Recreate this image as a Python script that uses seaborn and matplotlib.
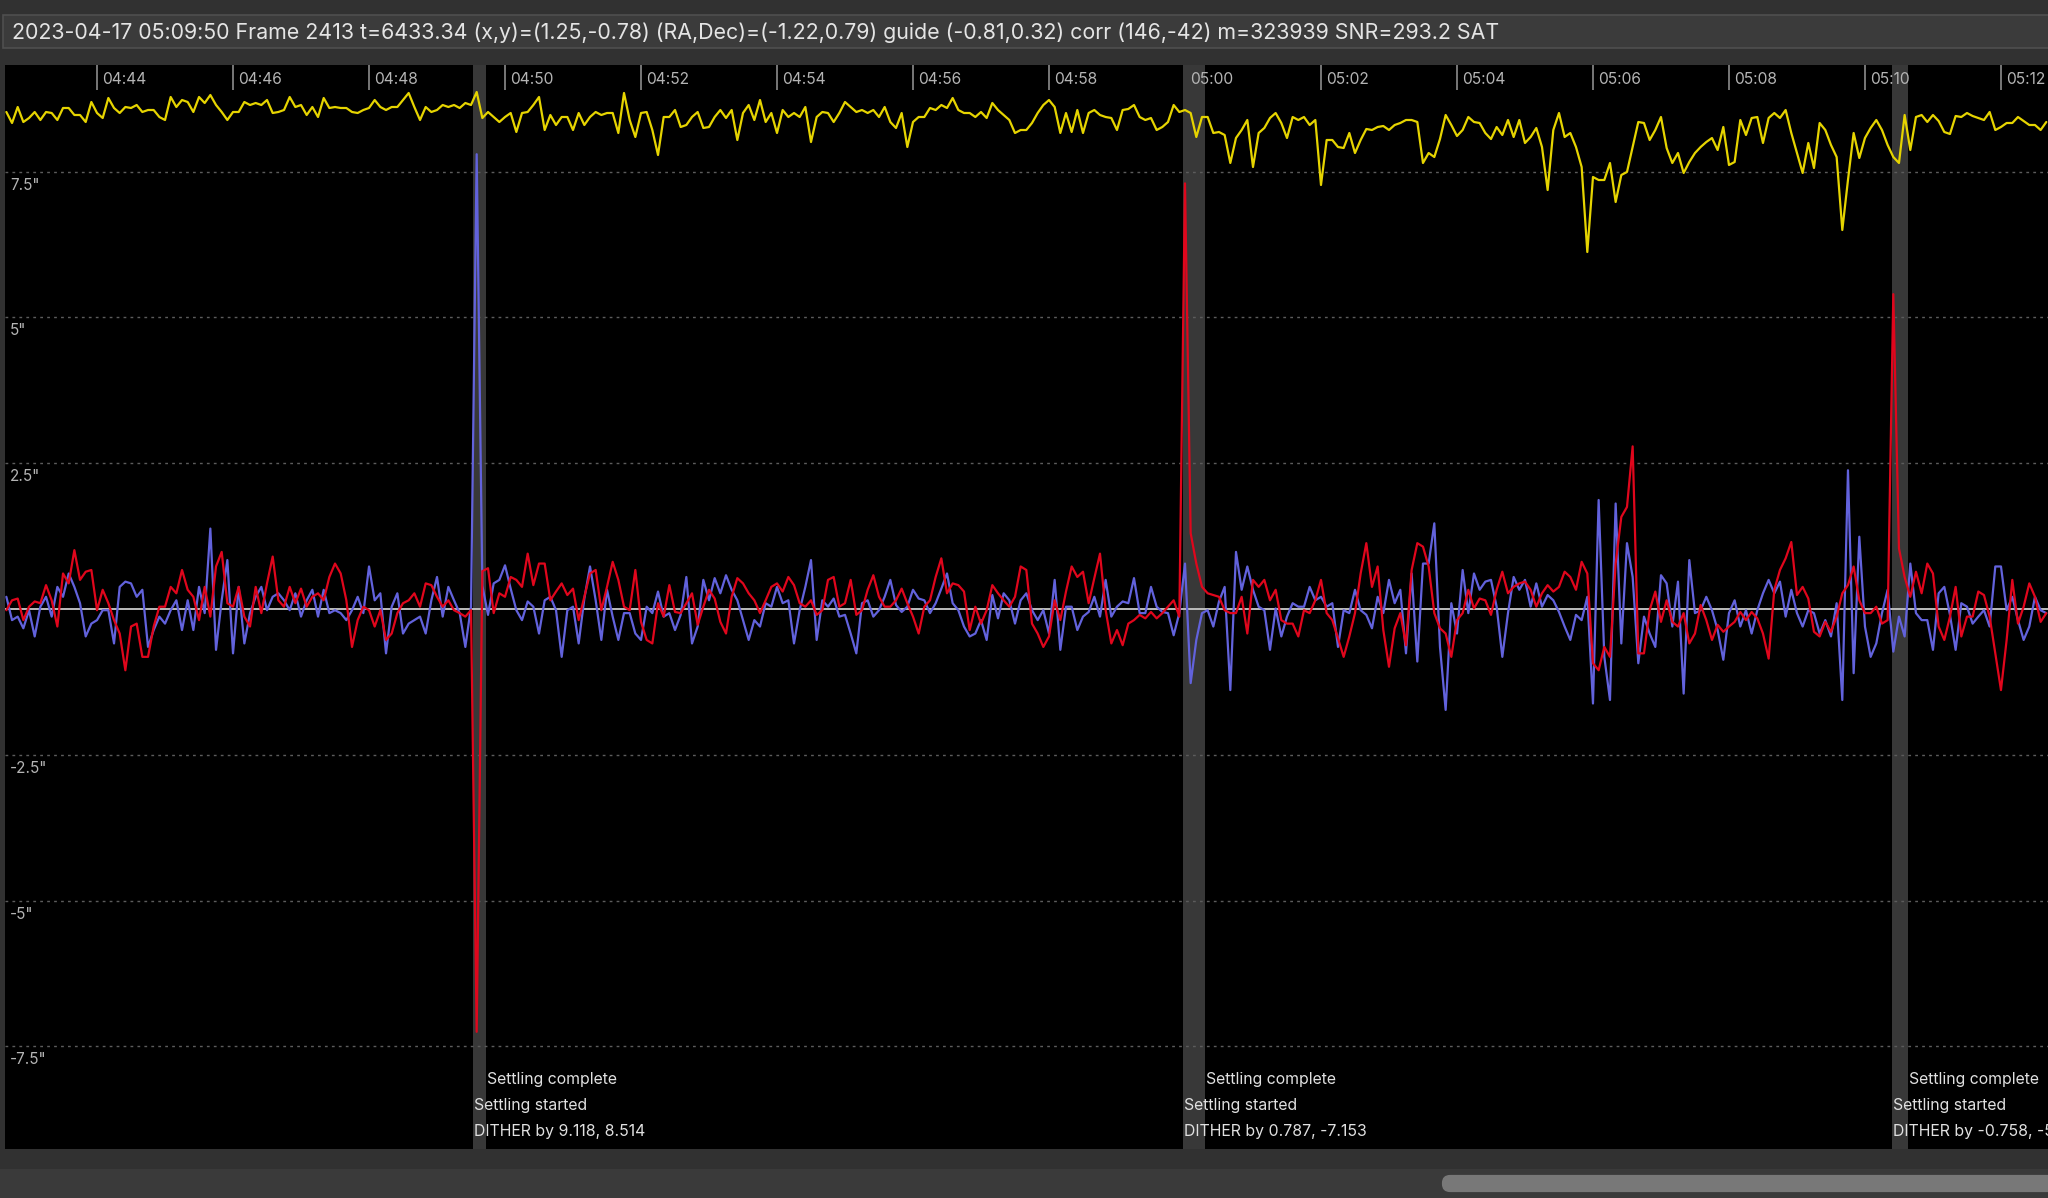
import seaborn as sns
import pandas as pd
import numpy as np
import matplotlib.pyplot as plt
import matplotlib.dates as mdates
from matplotlib.patches import Rectangle, FancyBboxPatch

# guide log, one frame every 5 s from the start time
start = "2023-04-17 04:42:40"
step = "5s"

# RA offset (arcsec), blue
ra = [
    0.21, -0.19, -0.13, -0.33, -0.02, -0.47, 0.04, 0.21, -0.13, 0.38,
    0.21, 0.61, 0.38, 0.10, -0.47, -0.25, -0.19, -0.02, -0.02, -0.59,
    0.38, 0.47, 0.44, 0.21, 0.33, -0.65, -0.36, -0.13, -0.25, -0.02,
    0.15, -0.36, 0.15, -0.36, 0.38, -0.07, 1.38, -0.70, 0.15, 0.84,
    -0.76, 0.38, -0.59, -0.07, 0.21, 0.38, -0.02, 0.21, 0.27, 0.15,
    -0.02, 0.27, -0.13, 0.15, 0.33, -0.13, 0.33, -0.07, -0.02, -0.07,
    -0.19, -0.02, 0.21, -0.07, 0.73, 0.15, 0.27, -0.76, 0.04, 0.27,
    -0.42, -0.25, -0.19, -0.13, -0.42, 0.15, 0.55, -0.13, 0.38, 0.15,
    -0.07, -0.65, 0.04, 7.80, 0.40, -0.10, 0.44, 0.50, 0.75, 0.35,
    -0.02, -0.19, 0.13, 0.04, -0.42, 0.15, 0.21, -0.02, -0.82, -0.02,
    0.04, -0.59, 0.18, 0.73, 0.15, -0.53, 0.33, -0.13, -0.53, -0.07,
    -0.07, -0.42, -0.53, 0.04, -0.07, 0.30, -0.13, -0.07, -0.36, -0.10,
    0.55, -0.59, -0.30, 0.50, 0.15, 0.53, 0.27, 0.58, 0.33, 0.15,
    -0.19, -0.53, -0.19, -0.30, 0.10, 0.04, 0.38, 0.10, 0.15, -0.59,
    -0.02, 0.38, 0.84, -0.53, 0.15, 0.04, 0.18, -0.13, -0.10, -0.42,
    -0.76, 0.10, 0.15, -0.13, -0.02, 0.21, 0.50, 0.07, -0.05, 0.04,
    0.33, 0.18, 0.15, -0.07, 0.10, 0.35, 0.61, 0.10, -0.02, -0.30,
    -0.47, -0.42, -0.19, -0.53, 0.24, -0.16, 0.27, 0.15, -0.25, 0.15,
    0.27, -0.02, -0.19, -0.02, -0.42, 0.50, -0.70, 0.04, 0.04, -0.36,
    -0.13, -0.05, 0.21, -0.13, 0.50, -0.13, 0.04, 0.13, 0.10, 0.53,
    -0.07, -0.07, 0.38, 0.04, -0.05, -0.07, -0.45, -0.07, 0.78, -1.27,
    -0.53, -0.07, -0.02, -0.30, 0.13, 0.38, -1.39, 0.98, 0.33, 0.73,
    0.33, 0.04, -0.02, -0.70, 0.01, -0.47, -0.13, 0.10, 0.04, 0.04,
    0.38, 0.15, 0.21, 0.04, 0.10, -0.65, -0.02, -0.07, 0.33, -0.02,
    -0.10, -0.33, 0.21, -0.07, 0.50, 0.10, 0.33, -0.76, 0.61, -0.90,
    0.78, 0.78, 1.47, -0.65, -1.73, 0.10, -0.42, 0.67, -0.07, 0.61,
    0.33, 0.47, 0.50, 0.04, -0.82, -0.07, 0.55, 0.33, 0.50, 0.04,
    0.44, 0.04, 0.24, 0.15, -0.05, -0.30, -0.53, -0.10, -0.19, 0.21,
    -1.62, 1.87, -0.82, -1.56, 1.81, -0.59, 1.13, 0.55, -0.93, -0.13,
    -0.42, -0.65, 0.58, 0.44, -0.30, 0.47, -1.45, 0.84, -0.07, -0.02,
    0.21, -0.02, -0.36, -0.87, -0.07, 0.15, -0.30, -0.02, -0.42, -0.02,
    0.27, 0.50, 0.27, 0.47, -0.13, 0.33, -0.07, -0.30, -0.02, -0.07,
    -0.42, -0.19, -0.47, 0.10, -1.56, 2.38, -1.10, 1.24, -0.30, -0.82,
    -0.59, -0.07, 0.33, -0.73, -0.13, -0.47, 0.78, -0.07, -0.19, -0.19,
    -0.70, 0.27, 0.38, -0.10, -0.70, 0.10, 0.04, -0.25, -0.13, -0.02,
    -0.30, 0.73, 0.73, -0.02, 0.21, -0.19, -0.53, -0.30, 0.21, -0.02,
    -0.07,
]

# Dec offset (arcsec), red
dec = [
    -0.02, 0.15, 0.18, -0.19, 0.04, 0.13, 0.10, 0.41, 0.15, -0.30,
    0.61, 0.44, 1.01, 0.50, 0.64, 0.67, -0.02, 0.33, 0.10, -0.19,
    -0.42, -1.05, -0.30, -0.25, -0.82, -0.82, -0.30, 0.04, 0.04, 0.38,
    0.27, 0.67, 0.33, 0.21, -0.19, 0.38, -0.13, 0.73, 0.98, 0.10,
    0.04, 0.38, -0.13, -0.30, 0.38, -0.07, 0.44, 0.90, 0.15, 0.04,
    0.38, 0.10, 0.35, 0.04, 0.21, 0.27, 0.15, 0.55, 0.78, 0.61,
    0.15, -0.65, -0.19, 0.04, -0.02, -0.30, -0.02, -0.53, -0.42, -0.07,
    0.10, 0.15, 0.27, 0.04, 0.44, 0.41, 0.21, 0.04, 0.15, -0.02,
    -0.07, -0.13, -0.02, -7.25, 0.65, 0.70, -0.07, 0.27, 0.21, 0.55,
    0.50, 0.38, 0.95, 0.41, 0.78, 0.78, 0.15, 0.30, 0.44, 0.24,
    0.35, -0.19, 0.21, 0.61, 0.67, -0.02, 0.38, 0.81, 0.50, 0.04,
    -0.02, 0.67, -0.22, -0.53, -0.59, 0.10, -0.13, 0.41, -0.05, -0.07,
    0.10, 0.27, -0.27, 0.04, 0.33, 0.18, -0.22, -0.42, 0.21, 0.53,
    0.44, 0.27, 0.15, -0.07, 0.15, 0.38, 0.44, 0.30, 0.55, 0.41,
    0.10, 0.04, 0.15, -0.10, -0.02, 0.50, 0.55, 0.04, 0.10, 0.50,
    -0.10, -0.02, 0.33, 0.58, 0.21, 0.04, 0.04, 0.15, 0.35, 0.10,
    -0.13, -0.42, 0.04, 0.15, 0.55, 0.87, 0.27, 0.44, 0.41, 0.30,
    -0.36, 0.04, -0.25, -0.02, 0.41, 0.27, 0.15, 0.04, 0.21, 0.73,
    0.67, -0.25, -0.42, -0.65, -0.47, 0.15, -0.19, 0.30, 0.73, 0.55,
    0.64, 0.10, 0.53, 0.95, -0.02, -0.59, -0.36, -0.62, -0.25, -0.19,
    -0.10, -0.16, -0.05, -0.16, -0.07, 0.04, 0.15, -0.13, 7.30, 1.30,
    0.78, 0.38, 0.27, 0.24, 0.21, -0.02, -0.07, -0.07, 0.21, -0.42,
    0.50, 0.38, 0.50, 0.15, 0.33, -0.19, -0.25, -0.25, -0.47, -0.02,
    -0.07, 0.15, 0.50, -0.07, -0.19, -0.50, -0.82, -0.47, -0.07, 0.61,
    1.13, 0.38, 0.73, -0.36, -0.99, -0.33, -0.07, -0.62, 0.67, 1.13,
    1.07, 0.73, -0.07, -0.33, -0.42, -0.82, -0.19, -0.07, 0.33, 0.01,
    0.18, 0.15, -0.10, 0.33, 0.64, 0.27, 0.38, 0.44, 0.47, 0.33,
    0.04, 0.27, 0.41, 0.30, 0.38, 0.64, 0.55, 0.33, 0.81, 0.61,
    -0.93, -1.05, -0.65, -0.82, 0.78, 1.58, 1.75, 2.79, -0.76, -0.76,
    -0.02, 0.30, -0.22, 0.15, -0.22, -0.30, -0.07, -0.59, -0.42, 0.07,
    -0.19, -0.53, -0.27, -0.39, -0.30, -0.22, -0.05, -0.19, -0.05, -0.16,
    -0.42, -0.85, 0.33, 0.67, 0.87, 1.15, 0.24, 0.38, 0.18, -0.39,
    -0.47, -0.22, -0.39, -0.13, 0.27, 0.41, 0.73, 0.15, -0.07, -0.07,
    0.04, -0.25, -0.19, 5.40, 1.04, 0.55, 0.21, 0.64, 0.27, 0.78,
    0.61, -0.30, -0.53, -0.13, 0.38, -0.47, -0.13, -0.13, 0.30, 0.24,
    -0.13, -0.76, -1.39, -0.53, 0.50, -0.25, 0.04, 0.44, 0.21, -0.22,
    -0.07,
]

# star mass (thousands), yellow
mass = [
    324, 313, 329, 314, 318, 324, 316, 324, 323, 316,
    328, 328, 321, 321, 314, 334, 323, 318, 338, 328,
    323, 329, 328, 331, 324, 326, 326, 319, 316, 339,
    329, 336, 334, 324, 339, 333, 341, 331, 324, 316,
    324, 324, 334, 331, 333, 331, 336, 323, 324, 326,
    339, 329, 331, 321, 329, 319, 338, 328, 329, 328,
    328, 324, 323, 326, 328, 336, 329, 326, 329, 329,
    336, 343, 329, 316, 329, 324, 326, 331, 329, 331,
    328, 333, 331, 344, 318, 324, 319, 314, 319, 323,
    304, 323, 324, 331, 339, 306, 321, 311, 319, 319,
    306, 323, 311, 319, 324, 321, 323, 323, 303, 343,
    316, 299, 323, 324, 306, 281, 319, 319, 326, 309,
    311, 319, 324, 308, 309, 319, 326, 318, 326, 296,
    323, 331, 316, 336, 314, 323, 303, 326, 319, 323,
    319, 329, 294, 319, 324, 323, 314, 323, 334, 329,
    324, 326, 323, 326, 319, 329, 314, 308, 323, 289,
    314, 319, 319, 328, 326, 331, 328, 338, 326, 323,
    323, 319, 324, 318, 333, 326, 321, 316, 303, 306,
    306, 313, 323, 331, 336, 329, 303, 323, 304, 326,
    303, 323, 326, 321, 319, 318, 306, 326, 327, 331,
    319, 316, 318, 306, 309, 314, 331, 324, 326, 323,
    299, 319, 319, 303, 304, 301, 273, 298, 306, 316,
    269, 303, 308, 318, 323, 313, 298, 319, 316, 319,
    311, 316, 251, 296, 296, 289, 288, 303, 283, 296,
    307, 306, 309, 310, 306, 311, 313, 316, 316, 314,
    273, 283, 279, 297, 321, 311, 300, 306, 319, 314,
    313, 303, 297, 309, 301, 316, 299, 316, 293, 299,
    308, 289, 246, 306, 323, 299, 303, 289, 269, 184,
    259, 256, 256, 273, 234, 261, 264, 289, 314, 313,
    296, 306, 319, 288, 273, 283, 263, 274, 283, 289,
    294, 298, 286, 309, 271, 274, 316, 301, 318, 319,
    293, 318, 323, 318, 326, 303, 283, 263, 293, 268,
    313, 306, 291, 279, 206, 256, 303, 278, 298, 308,
    316, 306, 291, 279, 273, 321, 286, 319, 321, 314,
    321, 315, 304, 302, 320, 319, 323, 320, 318, 316,
    324, 306, 309, 313, 313, 319, 315, 311, 311, 306,
    314,
]

dither_start = ["2023-04-17 04:49:31.7", "2023-04-17 04:59:58", "2023-04-17 05:10:24"]
dither_end = ["2023-04-17 04:49:43", "2023-04-17 05:00:18", "2023-04-17 05:10:38"]
dither_text = ["DITHER by 9.118, 8.514", "DITHER by 0.787, -7.153", "DITHER by -0.758, -5.412"]

grid_levels = [7.5, 5, 2.5, -2.5, -5, -7.5]
grid_labels = ['7.5"', '5"', '2.5"', '-2.5"', '-5"', '-7.5"']

status = ("2023-04-17 05:09:50 Frame 2413 t=6433.34 (x,y)=(1.25,-0.78) "
          "(RA,Dec)=(-1.22,0.79) guide (-0.81,0.32) corr (146,-42) m=323939 SNR=293.2 SAT")

times = pd.date_range(start, periods=len(ra), freq=step)
n = len(ra)
df = pd.DataFrame({
    "time": list(times) * 2,
    "axis": ["RA"] * n + ["Dec"] * n,
    "offset": ra + dec,
})
df_mass = pd.DataFrame({"time": times, "mass": mass})

sns.set_theme(style="dark")
plt.rcParams["font.family"] = ["Inter", "DejaVu Sans"]

W, H = 2048, 1198
fig = plt.figure(figsize=(W / 100, H / 100), dpi=100, facecolor="#313131")

# status bar
fig.add_artist(Rectangle((3 / W, 1 - 48 / H), 1, 33 / H, transform=fig.transFigure,
                         facecolor="#3b3b3b", edgecolor="#4f4f4f", lw=1.2))
fig.text(12 / W, 1 - 33 / H, status, color="#e4e4e4", fontsize=15.4, va="center", ha="left")

# scrollbar
fig.add_artist(Rectangle((0, 0), 1, 29 / H, transform=fig.transFigure,
                         facecolor="#3a3a3a", edgecolor="none"))
fig.add_artist(FancyBboxPatch((1446 / W, 10 / H), 700 / W, 9 / H, transform=fig.transFigure,
                              boxstyle="round,pad=0.002,rounding_size=0.004",
                              facecolor="#787878", edgecolor="none", mutation_aspect=W / H))

ax = fig.add_axes([5 / W, 49 / H, (W - 5) / W, 1084 / H])
ax.set_facecolor("black")
for s in ax.spines.values():
    s.set_visible(False)

# dither bands
for s0, s1 in zip(dither_start, dither_end):
    ax.axvspan(pd.Timestamp(s0), pd.Timestamp(s1), color="#383838", lw=0, zorder=1)

for lv in grid_levels:
    ax.axhline(lv, color="#5c5c5c", lw=1.0, ls=(0, (2, 3)), zorder=1.5)
ax.axhline(0, color="#bcbcbc", lw=1.4, zorder=2)

sns.lineplot(data=df, x="time", y="offset", hue="axis", hue_order=["RA", "Dec"],
             palette={"RA": "#6262dc", "Dec": "#e0061c"}, estimator=None,
             linewidth=1.6, legend=False, ax=ax, zorder=3)

ax.set_xlim(pd.Timestamp("2023-04-17 04:42:38.8"), pd.Timestamp("2023-04-17 05:12:41.5"))
ax.set_ylim(-9.26, 9.33)
ax.set_xlabel("")
ax.set_ylabel("")
ax.set_yticks([])
ax.grid(False)

ax.xaxis.set_major_locator(mdates.MinuteLocator(byminute=range(0, 60, 2)))
ax.tick_params(axis="x", which="major", direction="in", top=True, bottom=False,
               labeltop=False, labelbottom=False, length=18, width=1.2, color="#8c8c8c")

for t in pd.date_range("2023-04-17 04:44", "2023-04-17 05:12", freq="2min"):
    ax.annotate(t.strftime("%H:%M"), xy=(mdates.date2num(t), 1), xycoords=("data", "axes fraction"),
                xytext=(5, -14), textcoords="offset pixels", va="center", ha="left",
                fontsize=11.2, color="#b4b4b4")

for lv, lb in zip(grid_levels, grid_labels):
    ax.annotate(lb, xy=(0, lv), xycoords=("axes fraction", "data"), xytext=(5, -6),
                textcoords="offset pixels", va="top", ha="left", fontsize=11, color="#b4b4b4")

for s0, s1, txt in zip(dither_start, dither_end, dither_text):
    x0 = mdates.date2num(pd.Timestamp(s0))
    x1 = mdates.date2num(pd.Timestamp(s1))
    ax.annotate("Settling complete", xy=(x1, 0.0637), xycoords=("data", "axes fraction"),
                xytext=(1, 0), textcoords="offset pixels", va="center", ha="left",
                fontsize=11.4, color="#e0e0e0", annotation_clip=False)
    ax.annotate("Settling started", xy=(x0, 0.0397), xycoords=("data", "axes fraction"),
                xytext=(1, 0), textcoords="offset pixels", va="center", ha="left",
                fontsize=11.4, color="#e0e0e0", annotation_clip=False)
    ax.annotate(txt, xy=(x0, 0.0157), xycoords=("data", "axes fraction"),
                xytext=(1, 0), textcoords="offset pixels", va="center", ha="left",
                fontsize=11.4, color="#e0e0e0", annotation_clip=False)

# star mass on its own scale
ax2 = ax.twinx()
sns.lineplot(data=df_mass, x="time", y="mass", color="#e6d400", linewidth=1.6,
             estimator=None, ax=ax2, zorder=3)
ax2.set_ylim(-713, 371)
ax2.set_yticks([])
ax2.set_ylabel("")
ax2.grid(False)
for s in ax2.spines.values():
    s.set_visible(False)
ax2.tick_params(axis="x", which="both", top=False, bottom=False, labeltop=False, labelbottom=False)

fig.savefig("out.png", dpi=100, facecolor=fig.get_facecolor())
